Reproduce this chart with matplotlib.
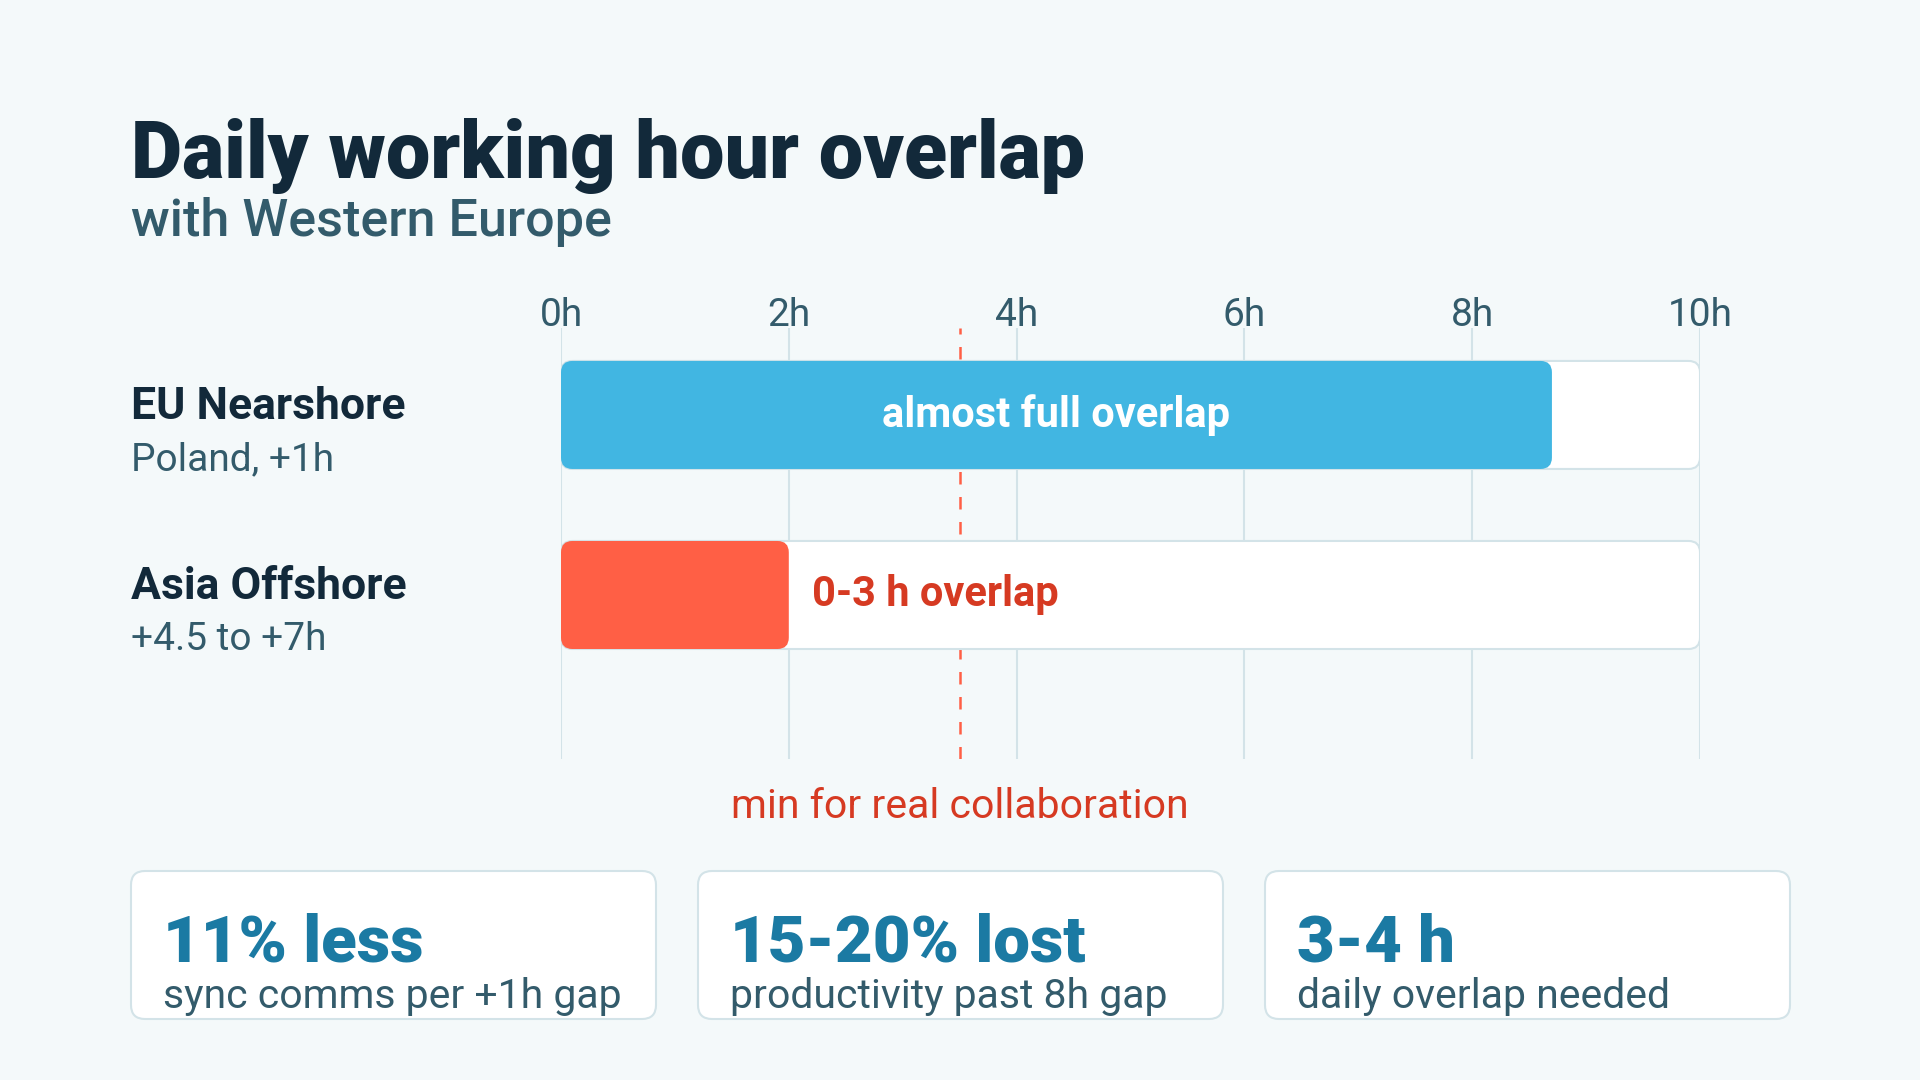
import matplotlib
matplotlib.use("Agg")
import matplotlib.pyplot as plt
from matplotlib.patches import FancyBboxPatch

plt.rcParams['font.family'] = ['Roboto', 'DejaVu Sans']

# data
rows = ['EU Nearshore', 'Asia Offshore']
row_notes = ['Poland, +1h', '+4.5 to +7h']
overlap_hours = [8.7, 2.0]
bar_labels = ['almost full overlap', '0-3 h overlap']
day_hours = 10
min_overlap = 3.5
tick_hours = [0, 2, 4, 6, 8, 10]
tick_labels = ['0h', '2h', '4h', '6h', '8h', '10h']
stat_values = ['11% less', '15-20% lost', '3-4 h']
stat_notes = ['sync comms per +1h gap', 'productivity past 8h gap', 'daily overlap needed']

BG = '#f4f9fa'
NAVY = '#12293a'
SLATE = '#335b6b'
BLUE = '#41b6e2'
CORAL = '#ff5f45'
RED_TXT = '#d63a22'
TEAL = '#1b7aa3'
LINE = '#d3e3e8'

W, H = 1920, 1080
fig = plt.figure(figsize=(W / 100, H / 100), dpi=100, facecolor=BG)

# overlay axes in pixel coordinates for titles, labels and cards
ov = fig.add_axes([0, 0, 1, 1])
ov.set_xlim(0, W)
ov.set_ylim(H, 0)
ov.axis('off')
ov.set_zorder(0)

ov.text(131, 178, 'Daily working hour overlap', fontsize=57, fontweight='black',
        color=NAVY, va='baseline', ha='left')
ov.text(131, 236, 'with Western Europe', fontsize=37.5, fontweight='medium',
        color=SLATE, va='baseline', ha='left')

label_base = [419, 599]
for i, (name, note) in enumerate(zip(rows, row_notes)):
    ov.text(131, label_base[i], name, fontsize=32, fontweight='bold',
            color=NAVY, va='baseline', ha='left')
    ov.text(131, label_base[i] + 51, note, fontsize=28,
            color=SLATE, va='baseline', ha='left')

# stat cards
card_x = [131, 698, 1265]
card_w, card_top, card_h = 525, 871, 148
for x0, val, note in zip(card_x, stat_values, stat_notes):
    card = FancyBboxPatch((x0, card_top), card_w, card_h,
                          boxstyle='round,pad=0,rounding_size=14',
                          facecolor='white', edgecolor=LINE, linewidth=1.5)
    ov.add_patch(card)
    ov.text(x0 + 32, 962, val, fontsize=47, fontweight='black',
            color=TEAL, va='baseline', ha='left')
    ov.text(x0 + 32, 1008, note, fontsize=29.5,
            color=SLATE, va='baseline', ha='left')

# chart axes
x0_px, x1_px = 561, 1700
top_px, bot_px = 328, 759
ax = fig.add_axes([x0_px / W, 1 - bot_px / H, (x1_px - x0_px) / W, (bot_px - top_px) / H])
ax.set_facecolor('none')
ax.set_zorder(1)
ax.set_xlim(0, day_hours)
ax.set_ylim(1.911, -0.483)
for s in ax.spines.values():
    s.set_visible(False)
ax.set_yticks([])
ax.xaxis.tick_top()
ax.set_xticks(tick_hours)
ax.set_xticklabels(tick_labels, fontsize=28, color=SLATE)
ax.tick_params(axis='x', length=0, pad=-4.5)
for t in tick_hours:
    ax.axvline(t, color=LINE, linewidth=1.5, zorder=0)
ax.axvline(min_overlap, color=CORAL, linewidth=1.8, linestyle=(0, (5, 5)), zorder=1)

px_x = (x1_px - x0_px) / day_hours
px_y = 180
aspect = px_x / px_y
bar_h = 0.6
for i, hrs in enumerate(overlap_hours):
    track = FancyBboxPatch((0, i - bar_h / 2), day_hours, bar_h,
                           boxstyle='round,pad=0,rounding_size=0.1',
                           mutation_aspect=aspect,
                           facecolor='white', edgecolor=LINE, linewidth=1.5, zorder=2)
    ax.add_patch(track)
    bar = FancyBboxPatch((0, i - bar_h / 2), hrs, bar_h,
                         boxstyle='round,pad=0,rounding_size=0.1',
                         mutation_aspect=aspect,
                         facecolor=BLUE if i == 0 else CORAL, edgecolor='none', zorder=3)
    ax.add_patch(bar)

ax.text(overlap_hours[0] / 2, 0, bar_labels[0], fontsize=30, fontweight='bold',
        color='white', ha='center', va='center', zorder=4)
ax.text(overlap_hours[1] + 0.2, 1, bar_labels[1], fontsize=30, fontweight='bold',
        color=RED_TXT, ha='left', va='center', zorder=4)

ov.text(x0_px + min_overlap * px_x, 818, 'min for real collaboration', fontsize=29.5,
        color=RED_TXT, ha='center', va='baseline')

fig.savefig('out.png', dpi=100, facecolor=BG)
